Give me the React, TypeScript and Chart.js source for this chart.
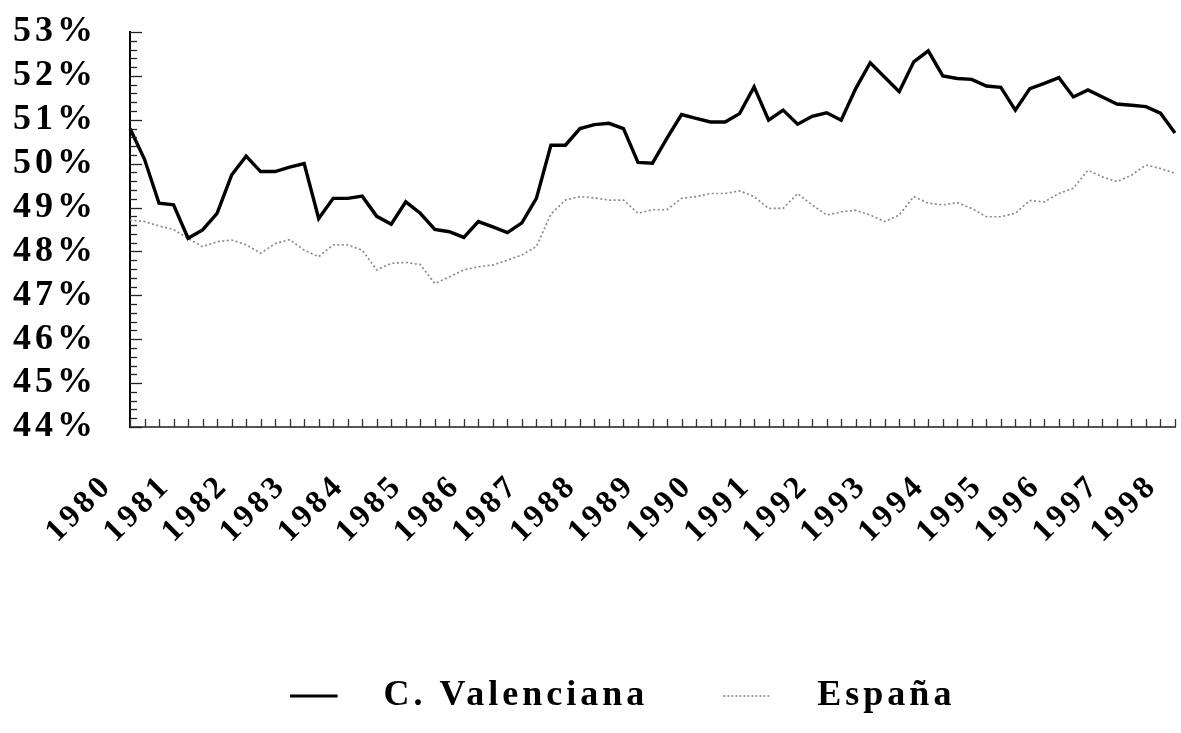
import React, { useEffect, useRef } from 'react';
import { Chart, registerables } from 'chart.js';

Chart.register(...registerables);

const years = ['1980', '1981', '1982', '1983', '1984', '1985', '1986', '1987', '1988', '1989',
  '1990', '1991', '1992', '1993', '1994', '1995', '1996', '1997', '1998'];
const quarters = ['I', 'II', 'III', 'IV'];

const valenciana = [
  50.80, 50.10, 49.10, 49.06, 48.30, 48.49, 48.87, 49.74, 50.17, 49.82,
  49.82, 49.92, 50.00, 48.75, 49.21, 49.21, 49.26, 48.80, 48.62, 49.13,
  48.87, 48.50, 48.45, 48.32, 48.68, 48.56, 48.43, 48.65, 49.21, 50.42,
  50.42, 50.80, 50.89, 50.92, 50.80, 50.03, 50.01, 50.58, 51.12, 51.03,
  50.95, 50.95, 51.14, 51.75, 50.99, 51.22, 50.90, 51.08, 51.16, 50.99,
  51.71, 52.30, 51.97, 51.64, 52.32, 52.57, 52.00, 51.94, 51.92, 51.77,
  51.74, 51.22, 51.71, 51.83, 51.96, 51.52, 51.68, 51.52, 51.36, 51.33,
  51.30, 51.15, 50.70,
];

const espana = [
  48.72, 48.68, 48.58, 48.50, 48.30, 48.11, 48.22, 48.26, 48.15, 47.96,
  48.18, 48.27, 48.03, 47.88, 48.15, 48.15, 48.03, 47.58, 47.73, 47.75,
  47.70, 47.27, 47.42, 47.58, 47.65, 47.69, 47.80, 47.92, 48.11, 48.85,
  49.17, 49.25, 49.22, 49.17, 49.17, 48.87, 48.95, 48.95, 49.21, 49.25,
  49.32, 49.32, 49.38, 49.25, 48.98, 48.98, 49.32, 49.06, 48.83, 48.90,
  48.94, 48.83, 48.68, 48.83, 49.25, 49.10, 49.06, 49.11, 48.98, 48.79,
  48.79, 48.87, 49.16, 49.13, 49.32, 49.44, 49.85, 49.70, 49.59, 49.74,
  49.97, 49.89, 49.78,
];

const seriesNames = ['C. Valenciana', 'España'];
const yMin = 44;
const yMax = 53;

const categories = valenciana.map((_, i) => `${years[Math.floor(i / 4)]}-${quarters[i % 4]}`);

const FONT = "'Liberation Serif', 'Times New Roman', serif";

export default function App() {
  const ref = useRef<HTMLCanvasElement | null>(null);

  useEffect(() => {
    if (!ref.current) return;

    const mkLegendImg = (color: string, width: number, dash: number[]) => {
      const c = document.createElement('canvas');
      c.width = 76;
      c.height = 10;
      const g = c.getContext('2d')!;
      g.strokeStyle = color;
      g.lineWidth = width;
      g.setLineDash(dash);
      g.beginPath();
      g.moveTo(0, 5);
      g.lineTo(48, 5);
      g.stroke();
      return c;
    };
    const legendImgs = [mkLegendImg('#000', 3, []), mkLegendImg('#8a8a8a', 1.6, [2, 2])];

    const spacing = {
      id: 'spacing',
      beforeUpdate(chart: any) { chart.ctx.letterSpacing = '4px'; },
      beforeDraw(chart: any) { chart.ctx.letterSpacing = '4px'; },
      afterLayout(chart: any) { if (chart.legend) chart.legend.left += 70; },
    };

    const innerTicks = {
      id: 'innerTicks',
      afterDatasetsDraw(chart: any) {
        const { ctx, scales, chartArea } = chart;
        const x = scales.x;
        const y = scales.y;
        ctx.save();
        ctx.strokeStyle = '#333';
        ctx.lineWidth = 1.3;
        for (let i = 0; i < categories.length; i++) {
          const px = Math.round(x.getPixelForValue(i)) + 0.5;
          ctx.beginPath();
          ctx.moveTo(px, chartArea.bottom);
          ctx.lineTo(px, chartArea.bottom - 8);
          ctx.stroke();
        }
        ctx.strokeStyle = '#222';
        const steps = Math.round((yMax - yMin) / 0.2);
        for (let k = 0; k <= steps; k++) {
          const v = yMin + k * 0.2;
          const py = Math.round(y.getPixelForValue(v)) + 0.5;
          const len = k % 5 === 0 ? 12 : 7;
          ctx.beginPath();
          ctx.moveTo(chartArea.left, py);
          ctx.lineTo(chartArea.left + len, py);
          ctx.stroke();
        }
        ctx.restore();
      },
    };

    const chart = new Chart(ref.current, {
      type: 'line',
      data: {
        labels: categories,
        datasets: [
          {
            label: seriesNames[0],
            data: valenciana,
            borderColor: '#000',
            backgroundColor: '#000',
            borderWidth: 3.4,
            pointRadius: 0,
            tension: 0,
          },
          {
            label: seriesNames[1],
            data: espana,
            borderColor: '#8a8a8a',
            backgroundColor: '#8a8a8a',
            borderWidth: 1.7,
            borderDash: [2, 2.5],
            pointRadius: 0,
            tension: 0,
          },
        ],
      },
      options: {
        responsive: true,
        maintainAspectRatio: false,
        animation: false,
        layout: { padding: { left: 0, right: 6, top: 32, bottom: 9 } },
        plugins: {
          tooltip: { enabled: false },
          legend: {
            position: 'bottom',
            labels: {
              usePointStyle: true,
              pointStyleWidth: 76,
              padding: 75,
              color: '#000',
              font: { family: FONT, size: 36, weight: 'bold' },
              generateLabels: (c: any) =>
                (Chart.defaults.plugins.legend.labels.generateLabels as any)(c).map((it: any, i: number) => ({
                  ...it,
                  pointStyle: legendImgs[i],
                })),
            },
          },
        },
        scales: {
          x: {
            type: 'category',
            offset: false,
            afterFit: (s: any) => { s.height = 176; s.paddingLeft = 0; s.paddingRight = 0; },
            grid: { display: false, drawTicks: false },
            border: { display: true, color: '#555', width: 2 },
            ticks: {
              autoSkip: false,
              maxRotation: 45,
              minRotation: 45,
              padding: 40,
              labelOffset: -22,
              color: '#000',
              font: { family: FONT, size: 32, weight: 'bold' },
              callback: (_v: any, idx: number) => (idx % 4 === 0 ? years[idx / 4] : ''),
            },
          },
          y: {
            min: yMin,
            max: yMax,
            afterFit: (s: any) => { s.width = 130; s.paddingTop = 0; s.paddingBottom = 0; },
            grid: { display: false, drawTicks: false },
            border: { display: true, color: '#000', width: 2 },
            ticks: {
              stepSize: 1,
              autoSkip: false,
              padding: 33,
              color: '#000',
              font: { family: FONT, size: 36, weight: 'bold' },
              callback: (v: any) => `${v}%`,
            },
          },
        },
      },
      plugins: [spacing, innerTicks],
    } as any);

    return () => chart.destroy();
  }, []);

  return (
    <div style={{ position: 'fixed', left: 0, top: 0, width: 1181, height: 733, background: '#fff' }}>
      <canvas ref={ref} style={{ display: 'block' }} />
    </div>
  );
}
